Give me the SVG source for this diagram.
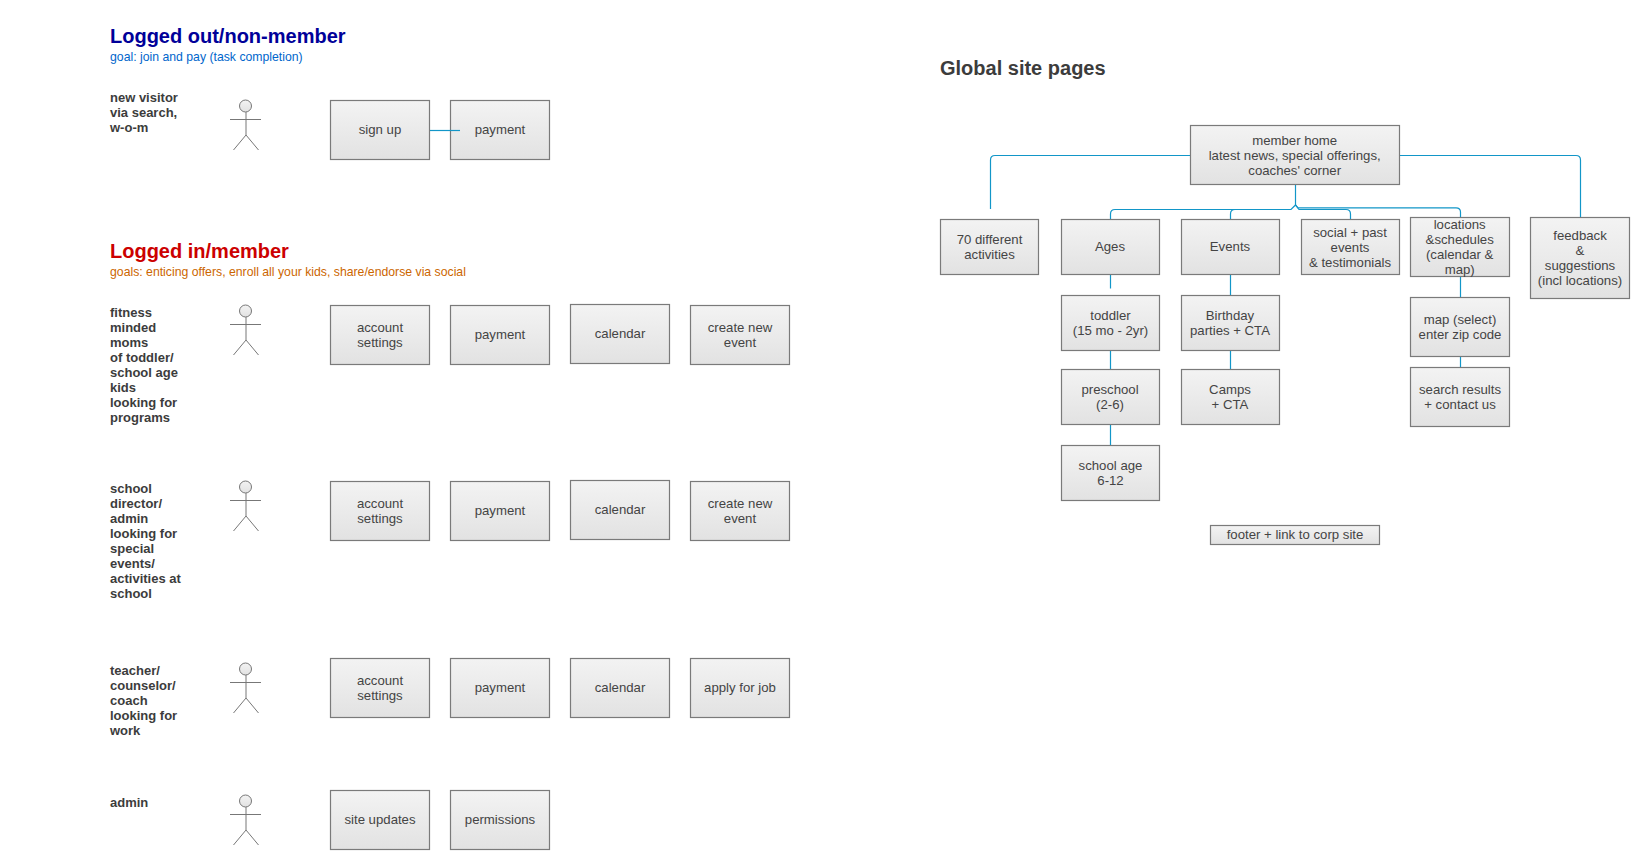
<svg xmlns="http://www.w3.org/2000/svg" width="1639" height="859" viewBox="0 0 1639 859">
<style>
text{font-family:"Liberation Sans",Arial,sans-serif;fill:#3c3c3c}
.b{fill:url(#g);stroke:#7a7a7a;stroke-width:1.2}
.t{font-size:13.2px;text-anchor:middle;fill:#444}
.l{font-size:13px;font-weight:bold}
.h{font-size:20px;font-weight:bold}
.s{font-size:12.25px}
.c{fill:none;stroke:#1296c8;stroke-width:1.2}
.a{fill:none;stroke:#777;stroke-width:1}
</style>
<defs>
<linearGradient id="g" x1="0" y1="0" x2="0" y2="1"><stop offset="0" stop-color="#f3f3f3"/><stop offset="1" stop-color="#e2e2e2"/></linearGradient>
<g id="actor"><circle cx="245.500" cy="106" r="6" fill="url(#g)" stroke="#777"/><path class="a" d="M230 119.500H261M246 112V135L233.500 150M246 135L258.500 150"/></g>
</defs>
<rect width="1639" height="859" fill="#fff"/>
<g id="headings">
<text class="h" x="110" y="43" style="fill:#000099">Logged out/non-member</text>
<text class="s" x="110" y="61" style="fill:#0066cc">goal: join and pay (task completion)</text>
<text class="h" x="110" y="258" style="fill:#cc0000">Logged in/member</text>
<text class="s" x="110" y="276" style="fill:#cc6600">goals: enticing offers, enroll all your kids, share/endorse via social</text>
<text class="h" x="940" y="75">Global site pages</text>
</g>
<g id="actor-1"><text class="l" x="110" y="102">new visitor</text><text class="l" x="110" y="117">via search,</text><text class="l" x="110" y="132">w-o-m</text><use href="#actor"/></g>
<g id="actor-2"><text class="l" x="110" y="317">fitness</text><text class="l" x="110" y="332">minded</text><text class="l" x="110" y="347">moms</text><text class="l" x="110" y="362">of toddler/</text><text class="l" x="110" y="377">school age</text><text class="l" x="110" y="392">kids</text><text class="l" x="110" y="407">looking for</text><text class="l" x="110" y="422">programs</text><use href="#actor" y="205"/></g>
<g id="actor-3"><text class="l" x="110" y="493">school</text><text class="l" x="110" y="508">director/</text><text class="l" x="110" y="523">admin</text><text class="l" x="110" y="538">looking for</text><text class="l" x="110" y="553">special</text><text class="l" x="110" y="568">events/</text><text class="l" x="110" y="583">activities at</text><text class="l" x="110" y="598">school</text><use href="#actor" y="381"/></g>
<g id="actor-4"><text class="l" x="110" y="675">teacher/</text><text class="l" x="110" y="690">counselor/</text><text class="l" x="110" y="705">coach</text><text class="l" x="110" y="720">looking for</text><text class="l" x="110" y="735">work</text><use href="#actor" y="563"/></g>
<g id="actor-5"><text class="l" x="110" y="807">admin</text><use href="#actor" y="695"/></g>
<g id="r1-signup"><rect class="b" x="330.500" y="100.500" width="99" height="59"/><text class="t" x="380" y="134">sign up</text></g>
<g id="r1-payment"><rect class="b" x="450.500" y="100.500" width="99" height="59"/><text class="t" x="500" y="134">payment</text></g>
<g id="r2-account"><rect class="b" x="330.500" y="305.500" width="99" height="59"/><text class="t" x="380" y="332">account</text><text class="t" x="380" y="347">settings</text></g>
<g id="r2-payment"><rect class="b" x="450.500" y="305.500" width="99" height="59"/><text class="t" x="500" y="339">payment</text></g>
<g id="r2-calendar"><rect class="b" x="570.500" y="304.500" width="99" height="59"/><text class="t" x="620" y="338">calendar</text></g>
<g id="r2-create"><rect class="b" x="690.500" y="305.500" width="99" height="59"/><text class="t" x="740" y="332">create new</text><text class="t" x="740" y="347">event</text></g>
<g id="r3-account"><rect class="b" x="330.500" y="481.500" width="99" height="59"/><text class="t" x="380" y="508">account</text><text class="t" x="380" y="523">settings</text></g>
<g id="r3-payment"><rect class="b" x="450.500" y="481.500" width="99" height="59"/><text class="t" x="500" y="515">payment</text></g>
<g id="r3-calendar"><rect class="b" x="570.500" y="480.500" width="99" height="59"/><text class="t" x="620" y="514">calendar</text></g>
<g id="r3-create"><rect class="b" x="690.500" y="481.500" width="99" height="59"/><text class="t" x="740" y="508">create new</text><text class="t" x="740" y="523">event</text></g>
<g id="r4-account"><rect class="b" x="330.500" y="658.500" width="99" height="59"/><text class="t" x="380" y="685">account</text><text class="t" x="380" y="700">settings</text></g>
<g id="r4-payment"><rect class="b" x="450.500" y="658.500" width="99" height="59"/><text class="t" x="500" y="692">payment</text></g>
<g id="r4-calendar"><rect class="b" x="570.500" y="658.500" width="99" height="59"/><text class="t" x="620" y="692">calendar</text></g>
<g id="r4-apply"><rect class="b" x="690.500" y="658.500" width="99" height="59"/><text class="t" x="740" y="692">apply for job</text></g>
<g id="r5-site"><rect class="b" x="330.500" y="790.500" width="99" height="59"/><text class="t" x="380" y="824">site updates</text></g>
<g id="r5-permissions"><rect class="b" x="450.500" y="790.500" width="99" height="59"/><text class="t" x="500" y="824">permissions</text></g>
<g id="member-home"><rect class="b" x="1190.500" y="125.500" width="209" height="59"/><text class="t" x="1294.700" y="145">member home</text><text class="t" x="1294.700" y="160">latest news, special offerings,</text><text class="t" x="1294.700" y="175">coaches' corner</text></g>
<g id="activities"><rect class="b" x="940.500" y="219.500" width="98" height="55"/><text class="t" x="989.500" y="244">70 different</text><text class="t" x="989.500" y="259">activities</text></g>
<g id="ages"><rect class="b" x="1061.500" y="219.500" width="98" height="55"/><text class="t" x="1110" y="251">Ages</text></g>
<g id="events"><rect class="b" x="1181.500" y="219.500" width="98" height="55"/><text class="t" x="1230" y="251">Events</text></g>
<g id="social"><rect class="b" x="1301.500" y="219.500" width="98" height="55"/><text class="t" x="1350" y="237">social + past</text><text class="t" x="1350" y="252">events</text><text class="t" x="1350" y="267">&amp; testimonials</text></g>
<g id="locations"><rect class="b" x="1410.500" y="217.500" width="99" height="59"/><text class="t" x="1459.700" y="229">locations</text><text class="t" x="1459.700" y="244">&amp;schedules</text><text class="t" x="1459.700" y="259">(calendar &amp;</text><text class="t" x="1459.700" y="274">map)</text></g>
<g id="feedback"><rect class="b" x="1530.500" y="217.500" width="99" height="81"/><text class="t" x="1580" y="240">feedback</text><text class="t" x="1580" y="255">&amp;</text><text class="t" x="1580" y="270">suggestions</text><text class="t" x="1580" y="285">(incl locations)</text></g>
<g id="toddler"><rect class="b" x="1061.500" y="295.500" width="98" height="55"/><text class="t" x="1110.500" y="320">toddler</text><text class="t" x="1110.500" y="335">(15 mo - 2yr)</text></g>
<g id="preschool"><rect class="b" x="1061.500" y="369.500" width="98" height="55"/><text class="t" x="1110" y="394">preschool</text><text class="t" x="1110" y="409">(2-6)</text></g>
<g id="school-age"><rect class="b" x="1061.500" y="445.500" width="98" height="55"/><text class="t" x="1110.500" y="470">school age</text><text class="t" x="1110.500" y="485">6-12</text></g>
<g id="birthday"><rect class="b" x="1181.500" y="295.500" width="98" height="55"/><text class="t" x="1230" y="320">Birthday</text><text class="t" x="1230" y="335">parties + CTA</text></g>
<g id="camps"><rect class="b" x="1181.500" y="369.500" width="98" height="55"/><text class="t" x="1230" y="394">Camps</text><text class="t" x="1230" y="409">+ CTA</text></g>
<g id="map"><rect class="b" x="1410.500" y="297.500" width="99" height="59"/><text class="t" x="1460" y="324">map (select)</text><text class="t" x="1460" y="339">enter zip code</text></g>
<g id="search"><rect class="b" x="1410.500" y="367.500" width="99" height="59"/><text class="t" x="1460" y="394">search results</text><text class="t" x="1460" y="409">+ contact us</text></g>
<g id="footer"><rect class="b" x="1210.500" y="525.500" width="169" height="19"/><text class="t" x="1295" y="539">footer + link to corp site</text></g>
<g id="connectors">
<path class="c" d="M430 130.500H460"/>
<path class="c" d="M1190 155.500H995Q990.500 155.500 990.500 160V209"/>
<path class="c" d="M1400 155.500H1576Q1580.500 155.500 1580.500 160V217"/>
<path class="c" d="M1295.500 185V205"/>
<path class="c" d="M1110.500 219V214Q1110.500 209.500 1115 209.500H1291L1295.500 205L1299 209.500H1346Q1350.500 209.500 1350.500 214V219"/>
<path class="c" d="M1230.500 219V214Q1230.500 209.500 1235 209.500"/>
<path class="c" d="M1295.500 205L1298 207.800H1456Q1460.500 207.800 1460.500 212V217"/>
<path class="c" d="M1110.500 275V288.500M1110.500 351V369M1110.500 425V445M1230.500 275V295M1230.500 351V369M1460.500 277V297M1460.500 357V367"/>
</g>
</svg>
